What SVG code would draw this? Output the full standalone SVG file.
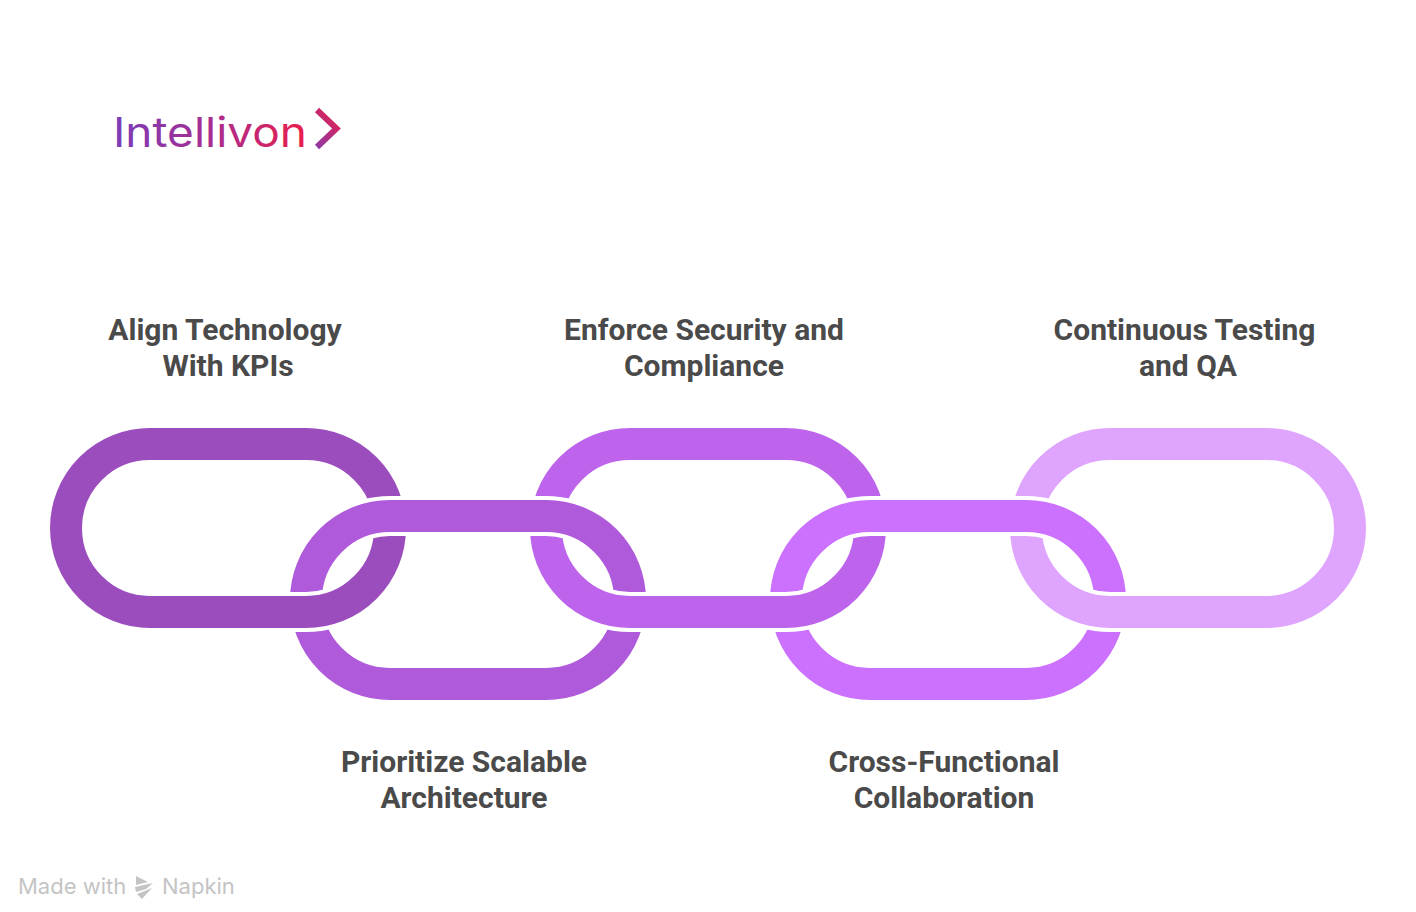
<svg xmlns="http://www.w3.org/2000/svg" width="1416" height="912" viewBox="0 0 1416 912">
<style>
.link{fill:none;stroke-width:32}
.halo{fill:none;stroke:#000;stroke-width:40}
.label{font-family:Roboto,"Liberation Sans",sans-serif;font-weight:700;font-size:30px;fill:#4a4a4a;text-anchor:middle}
.mark{font-family:Inter,"Noto Sans",sans-serif;font-size:22px;fill:#c4c4c4}
</style>
<defs>
<linearGradient id="logoGrad" gradientUnits="userSpaceOnUse" x1="114" y1="0" x2="306" y2="0"><stop offset="0" stop-color="#7a3db9"/><stop offset="0.5" stop-color="#a72d90"/><stop offset="1" stop-color="#e91e4c"/></linearGradient>
<linearGradient id="chevGrad" gradientUnits="userSpaceOnUse" x1="315" y1="148" x2="341" y2="122"><stop offset="0" stop-color="#8a3aa8"/><stop offset="1" stop-color="#dc2258"/></linearGradient>
<mask id="m1" maskUnits="userSpaceOnUse" x="0" y="0" width="1416" height="912"><rect width="1416" height="912" fill="#fff"/><path class="halo" d="M311.5 570A84 84 0 0 1 390 516H450"/></mask>
<mask id="m2" maskUnits="userSpaceOnUse" x="0" y="0" width="1416" height="912"><rect width="1416" height="912" fill="#fff"/><path class="halo" d="M250 612H306A84 84 0 0 0 383.7 560"/><path class="halo" d="M552.3 560A84 84 0 0 0 630 612H690"/></mask>
<mask id="m3" maskUnits="userSpaceOnUse" x="0" y="0" width="1416" height="912"><rect width="1416" height="912" fill="#fff"/><path class="halo" d="M490 516H546A84 84 0 0 1 624.5 570"/><path class="halo" d="M791.5 570A84 84 0 0 1 870 516H930"/></mask>
<mask id="m4" maskUnits="userSpaceOnUse" x="0" y="0" width="1416" height="912"><rect width="1416" height="912" fill="#fff"/><path class="halo" d="M730 612H786A84 84 0 0 0 863.7 560"/><path class="halo" d="M1032.3 560A84 84 0 0 0 1110 612H1170"/></mask>
<mask id="m5" maskUnits="userSpaceOnUse" x="0" y="0" width="1416" height="912"><rect width="1416" height="912" fill="#fff"/><path class="halo" d="M970 516H1026A84 84 0 0 1 1104.500 570"/></mask>
</defs>
<g id="logo">
<text x="113" y="147" font-family="Inter,'Noto Sans',sans-serif" font-size="41" fill="url(#logoGrad)" textLength="194" lengthAdjust="spacingAndGlyphs">Intellivon</text>
<path d="M317 110L336.500 128.500L317 147" fill="none" stroke="url(#chevGrad)" stroke-width="6"/>
</g>
<g id="connectors"></g>
<g id="node-align">
<rect class="link" x="66" y="444" width="324" height="168" rx="84" ry="84" stroke="#9b4dbe" mask="url(#m1)"/>
<text class="label" x="225" y="340">Align Technology</text>
<text class="label" x="228" y="376">With KPIs</text>
</g>
<g id="node-scalable">
<rect class="link" x="306" y="516" width="324" height="168" rx="84" ry="84" stroke="#af5adb" mask="url(#m2)"/>
<text class="label" x="464" y="772">Prioritize Scalable</text>
<text class="label" x="464" y="808">Architecture</text>
</g>
<g id="node-security">
<rect class="link" x="546" y="444" width="324" height="168" rx="84" ry="84" stroke="#bd63ec" mask="url(#m3)"/>
<text class="label" x="704" y="340">Enforce Security and</text>
<text class="label" x="704" y="376">Compliance</text>
</g>
<g id="node-collab">
<rect class="link" x="786" y="516" width="324" height="168" rx="84" ry="84" stroke="#cc70fe" mask="url(#m4)"/>
<text class="label" x="944" y="772">Cross-Functional</text>
<text class="label" x="944" y="808">Collaboration</text>
</g>
<g id="node-testing">
<rect class="link" x="1026" y="444" width="324" height="168" rx="84" ry="84" stroke="#dfa5fe" mask="url(#m5)"/>
<text class="label" x="1184.500" y="340">Continuous Testing</text>
<text class="label" x="1188" y="376">and QA</text>
</g>
<g id="watermark">
<text class="mark" x="18" y="893.500">Made with</text>
<path d="M136 876L148 882L136 885Z M135 887L153 883L146 889L136 892Z M137 894L152 888L142 899Z" fill="#c4c4c4"/>
<text class="mark" x="162" y="893.500">Napkin</text>
</g>
</svg>
